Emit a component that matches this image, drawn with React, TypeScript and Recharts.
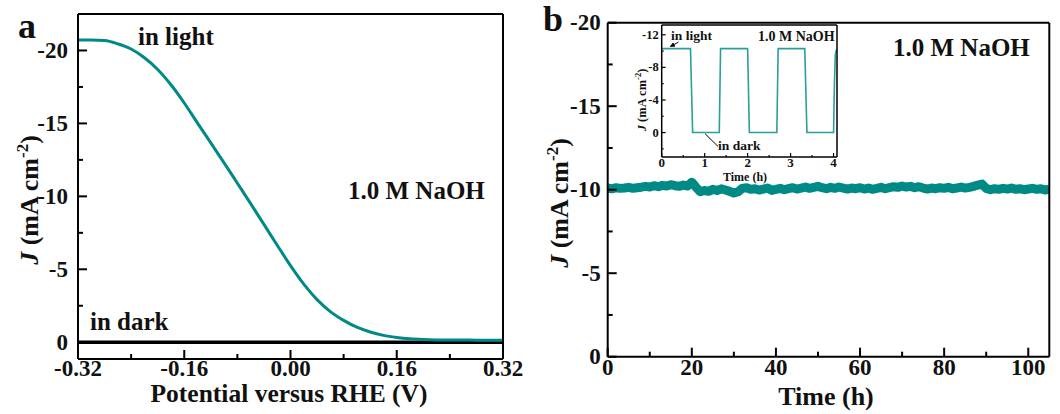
import React from 'react';
import { LineChart, Line, XAxis, YAxis, ReferenceLine } from 'recharts';

// ---------- Panel a data ----------
const potentialV = [
  -0.32, -0.30, -0.28, -0.26, -0.24, -0.22, -0.20, -0.18, -0.16, -0.14, -0.12,
  -0.10, -0.08, -0.06, -0.04, -0.02, 0.00, 0.02, 0.04, 0.06, 0.08, 0.10,
  0.12, 0.14, 0.16, 0.18, 0.20, 0.22, 0.24, 0.26, 0.28, 0.30, 0.32,
];
const lightJ = [
  -20.72, -20.72, -20.68, -20.45, -20.10, -19.50, -18.70, -17.65, -16.40, -15.02, -13.66,
  -12.30, -10.90, -9.50, -8.08, -6.65, -5.25, -3.98, -2.92, -2.10, -1.50, -1.03,
  -0.70, -0.47, -0.33, -0.24, -0.19, -0.16, -0.15, -0.15, -0.14, -0.14, -0.14,
];
const darkJ = [
  0, 0, 0, 0, 0, 0, 0, 0, 0, 0, 0,
  0, 0, 0, 0, 0, 0, 0, 0, 0, 0, 0,
  0, 0, 0, 0, 0, 0, 0, 0, 0, 0, 0,
];
const aXMajor = [-0.32, -0.16, 0, 0.16, 0.32];
const aXLabels = ['-0.32', '-0.16', '0.00', '0.16', '0.32'];
const aXMinor = [-0.24, -0.08, 0.08, 0.24];
const aYMajor = [-20, -15, -10, -5, 0];
const aYLabels = ['-20', '-15', '-10', '-5', '0'];
const aYMinor = [-17.5, -12.5, -7.5, -2.5];

// ---------- Panel b data ----------
const timeH = [
  0, 1, 2, 3, 4, 5, 6, 7, 8, 9, 10, 11, 12, 13, 14, 15, 16, 17, 18, 19,
  20, 21, 22, 23, 24, 25, 26, 27, 28, 29, 30, 31, 32, 33, 34, 35, 36, 37, 38, 39,
  40, 41, 42, 43, 44, 45, 46, 47, 48, 49, 50, 51, 52, 53, 54, 55, 56, 57, 58, 59,
  60, 61, 62, 63, 64, 65, 66, 67, 68, 69, 70, 71, 72, 73, 74, 75, 76, 77, 78, 79,
  80, 81, 82, 83, 84, 85, 86, 87, 88, 89, 90, 91, 92, 93, 94, 95, 96, 97, 98, 99,
  100, 101, 102, 103, 104, 105,
];
const stabilityJ = [
  -10.10, -10.05, -10.12, -10.08, -10.10, -10.14, -10.08, -10.12, -10.15, -10.20,
  -10.16, -10.24, -10.18, -10.26, -10.22, -10.30, -10.24, -10.20, -10.28, -10.22,
  -10.45, -10.15, -9.88, -9.95, -9.90, -10.02, -9.95, -10.05, -9.98, -9.90,
  -9.80, -9.88, -10.08, -10.12, -10.02, -10.06, -9.98, -10.04, -10.10, -9.96,
  -10.02, -10.08, -10.00, -10.06, -10.12, -10.04, -10.10, -10.16, -10.08, -10.14,
  -10.20, -10.12, -10.06, -10.14, -10.08, -10.16, -10.10, -10.04, -10.10, -10.06,
  -10.12, -10.04, -10.10, -10.02, -10.08, -10.14, -10.06, -10.12, -10.18, -10.14,
  -10.22, -10.16, -10.20, -10.12, -10.18, -10.10, -10.04, -10.10, -10.06, -10.12,
  -10.08, -10.14, -10.06, -10.10, -10.16, -10.10, -10.14, -10.20, -10.28, -10.34,
  -10.08, -10.00, -10.06, -10.02, -10.08, -10.04, -10.10, -10.02, -10.06, -10.00,
  -10.04, -10.08, -10.02, -10.06, -9.98, -10.04,
];
const bXMajor = [0, 20, 40, 60, 80, 100];
const bXLabels = ['0', '20', '40', '60', '80', '100'];
const bXMinor = [10, 30, 50, 70, 90];
const bYMajor = [-20, -15, -10, -5, 0];
const bYLabels = ['-20', '-15', '-10', '-5', '0'];
const bYMinor = [-17.5, -12.5, -7.5, -2.5];

// ---------- Inset data ----------
const insetT = [0, 0.67, 0.72, 1.34, 1.37, 2.0, 2.04, 2.68, 2.71, 3.33, 3.38, 4.0, 4.02, 4.04, 4.07];
const insetJ = [-10.3, -10.3, 0, 0, -10.3, -10.3, 0, 0, -10.3, -10.3, 0, 0, -6, -9.5, -10.2];
const iXMajor = [0, 1, 2, 3, 4];
const iXLabels = ['0', '1', '2', '3', '4'];
const iXMinor = [0.5, 1.5, 2.5, 3.5];
const iYMajor = [-12, -8, -4, 0];
const iYLabels = ['-12', '-8', '-4', '0'];
const iYMinor = [-10, -6, -2, 2];

const TEAL = '#008a85';
const INSET_TEAL = '#2a9e99';
const FONT = "'Liberation Serif', 'Times New Roman', serif";

type TickOpts = {
  side: 'bottom' | 'left';
  majors: number[];
  labels: string[];
  major: number;
  minor: number;
  font: number;
  gap: number;
  stroke: number;
};

function makeTick(o: TickOpts) {
  return (props: any) => {
    const { x, y, payload } = props;
    const idx = o.majors.findIndex((m) => Math.abs(m - payload.value) < 1e-6);
    const isMajor = idx >= 0;
    const len = isMajor ? o.major : o.minor;
    if (o.side === 'bottom') {
      return (
        <g>
          <line x1={x} y1={y} x2={x} y2={y - len} stroke="#000" strokeWidth={o.stroke} />
          {isMajor && (
            <text x={x} y={y + o.gap} textAnchor="middle" fontFamily={FONT} fontWeight="bold" fontSize={o.font} fill="#111">
              {o.labels[idx]}
            </text>
          )}
        </g>
      );
    }
    return (
      <g>
        <line x1={x} y1={y} x2={x + len} y2={y} stroke="#000" strokeWidth={o.stroke} />
        {isMajor && (
          <text x={x - o.gap} y={y + o.font * 0.33} textAnchor="end" fontFamily={FONT} fontWeight="bold" fontSize={o.font} fill="#111">
            {o.labels[idx]}
          </text>
        )}
      </g>
    );
  };
}

const sortNum = (a: number[]) => [...a].sort((p, q) => p - q);

function PanelA() {
  const data = potentialV.map((v, i) => ({ v, light: lightJ[i], dark: darkJ[i] }));
  const xDomain: [number, number] = [-0.32, 0.32];
  const yDomain: [number, number] = [-22.5, 1.15];
  return (
    <LineChart width={530} height={414} data={data} margin={{ top: 13, right: 26, bottom: 54, left: 77 }}>
      <XAxis dataKey="v" type="number" domain={xDomain} allowDataOverflow ticks={sortNum([...aXMajor, ...aXMinor])}
        interval={0} height={1} tickSize={0} tickMargin={0} tickLine={false}
        axisLine={{ stroke: '#000', strokeWidth: 2 }}
        tick={makeTick({ side: 'bottom', majors: aXMajor, labels: aXLabels, major: 9, minor: 5, font: 23, gap: 16.5, stroke: 2 })} />
      <XAxis xAxisId="top" dataKey="v" type="number" domain={xDomain} allowDataOverflow orientation="top" height={1}
        tick={false} tickLine={false} axisLine={{ stroke: '#000', strokeWidth: 2 }} />
      <YAxis type="number" domain={yDomain} allowDataOverflow reversed ticks={sortNum([...aYMajor, ...aYMinor])}
        interval={0} width={1} tickSize={0} tickMargin={0} tickLine={false}
        axisLine={{ stroke: '#000', strokeWidth: 2 }}
        tick={makeTick({ side: 'left', majors: aYMajor, labels: aYLabels, major: 9, minor: 5, font: 23, gap: 10, stroke: 2 })} />
      <YAxis yAxisId="right" type="number" domain={yDomain} allowDataOverflow reversed orientation="right" width={1}
        tick={false} tickLine={false} axisLine={{ stroke: '#000', strokeWidth: 2 }} />
      <Line dataKey="dark" type="linear" stroke="#000" strokeWidth={3.5} dot={false} isAnimationActive={false} />
      <Line dataKey="light" type="monotone" stroke={TEAL} strokeWidth={3} dot={false} isAnimationActive={false} />
    </LineChart>
  );
}

function PanelB() {
  const data = timeH.map((t, i) => ({ t, j: stabilityJ[i] }));
  const xDomain: [number, number] = [0, 105];
  const yDomain: [number, number] = [-20, 0];
  return (
    <LineChart width={530} height={414} data={data} margin={{ top: 21.7, right: 9.7, bottom: 56.3, left: 76.7 }}>
      <XAxis dataKey="t" type="number" domain={xDomain} allowDataOverflow ticks={sortNum([...bXMajor, ...bXMinor])}
        interval={0} height={1} tickSize={0} tickMargin={0} tickLine={false}
        axisLine={{ stroke: '#000', strokeWidth: 2 }}
        tick={makeTick({ side: 'bottom', majors: bXMajor, labels: bXLabels, major: 9, minor: 5, font: 23, gap: 18, stroke: 2 })} />
      <XAxis xAxisId="top" dataKey="t" type="number" domain={xDomain} allowDataOverflow orientation="top" height={1}
        tick={false} tickLine={false} axisLine={{ stroke: '#000', strokeWidth: 2 }} />
      <YAxis type="number" domain={yDomain} allowDataOverflow reversed ticks={sortNum([...bYMajor, ...bYMinor])}
        interval={0} width={1} tickSize={0} tickMargin={0} tickLine={false}
        axisLine={{ stroke: '#000', strokeWidth: 2 }}
        tick={makeTick({ side: 'left', majors: bYMajor, labels: bYLabels, major: 9, minor: 5, font: 23, gap: 7, stroke: 2 })} />
      <YAxis yAxisId="right" type="number" domain={yDomain} allowDataOverflow reversed orientation="right" width={1}
        tick={false} tickLine={false} axisLine={{ stroke: '#000', strokeWidth: 2 }} />
      <Line dataKey="j" type="linear" stroke={TEAL} strokeWidth={9} strokeLinejoin="round" dot={false} isAnimationActive={false} />
    </LineChart>
  );
}

function Inset() {
  const data = insetT.map((t, i) => ({ t, j: insetJ[i] }));
  const xDomain: [number, number] = [0, 4.08];
  const yDomain: [number, number] = [-13.2, 3.0];
  return (
    <LineChart width={250} height={160} data={data} margin={{ top: 9, right: 12, bottom: 17, left: 60.7 }}>
      <XAxis dataKey="t" type="number" domain={xDomain} allowDataOverflow ticks={sortNum([...iXMajor, ...iXMinor])}
        interval={0} height={1} tickSize={0} tickMargin={0} tickLine={false}
        axisLine={{ stroke: '#000', strokeWidth: 1.5 }}
        tick={makeTick({ side: 'bottom', majors: iXMajor, labels: iXLabels, major: 4, minor: 2, font: 13, gap: 10, stroke: 1.2 })} />
      <XAxis xAxisId="top" dataKey="t" type="number" domain={xDomain} allowDataOverflow orientation="top" height={1}
        tick={false} tickLine={false} axisLine={{ stroke: '#000', strokeWidth: 1.5 }} />
      <YAxis type="number" domain={yDomain} allowDataOverflow reversed ticks={sortNum([...iYMajor, ...iYMinor])}
        interval={0} width={1} tickSize={0} tickMargin={0} tickLine={false}
        axisLine={{ stroke: '#000', strokeWidth: 1.5 }}
        tick={makeTick({ side: 'left', majors: iYMajor, labels: iYLabels, major: 4, minor: 2, font: 12.5, gap: 3, stroke: 1.2 })} />
      <YAxis yAxisId="right" type="number" domain={yDomain} allowDataOverflow reversed orientation="right" width={1}
        tick={false} tickLine={false} axisLine={{ stroke: '#000', strokeWidth: 1.5 }} />
      <Line dataKey="j" type="linear" stroke={INSET_TEAL} strokeWidth={1.6} dot={false} isAnimationActive={false} />
      <ReferenceLine segment={[{ x: 0.39, y: -11.1 }, { x: 0.2, y: -10.55 }]} stroke="#000" strokeWidth={1}
        ifOverflow="visible" markerEnd="url(#arrowHead)" />
      <ReferenceLine segment={[{ x: 1.01, y: 0.15 }, { x: 1.31, y: 1.7 }]} stroke="#000" strokeWidth={1} ifOverflow="visible" />
    </LineChart>
  );
}

function Overlay() {
  const t = { fontFamily: FONT, fontWeight: 'bold' as const, fill: '#111' };
  return (
    <svg width={1060} height={414} style={{ position: 'absolute', left: 0, top: 0, pointerEvents: 'none' }}>
      <defs>
        <marker id="arrowHead" viewBox="0 0 10 10" refX="9" refY="5" markerWidth="5" markerHeight="5" orient="auto">
          <path d="M0,0 L10,5 L0,10 z" fill="#000" />
        </marker>
      </defs>
      {/* Panel a */}
      <text x={18} y={38} fontSize={36} {...t}>a</text>
      <text x={138} y={45} fontSize={25} {...t}>in light</text>
      <text x={90} y={330} fontSize={25} {...t}>in dark</text>
      <text x={348} y={199} fontSize={25} {...t}>1.0 M NaOH</text>
      <text x={289} y={402} fontSize={25.5} textAnchor="middle" {...t}>Potential versus RHE (V)</text>
      <text transform="translate(38,200) rotate(-90)" fontSize={26} textAnchor="middle" {...t}>
        <tspan fontStyle="italic">J</tspan> (mA cm<tspan fontSize={17} dy={-10}>-2</tspan><tspan dy={10}>)</tspan>
      </text>
      {/* Panel b */}
      <text x={543} y={31} fontSize={36} {...t}>b</text>
      <text x={893} y={56} fontSize={25} {...t}>1.0 M NaOH</text>
      <text x={826} y={405} fontSize={26} textAnchor="middle" {...t}>Time (h)</text>
      <text transform="translate(568,203) rotate(-90)" fontSize={26} textAnchor="middle" {...t}>
        <tspan fontStyle="italic">J</tspan> (mA cm<tspan fontSize={17} dy={-10}>-2</tspan><tspan dy={10}>)</tspan>
      </text>
      {/* Inset */}
      <text x={671} y={40} fontSize={13.5} {...t}>in light</text>
      <text x={758} y={41} fontSize={14} {...t}>1.0 M NaOH</text>
      <text x={718} y={150} fontSize={13.5} {...t}>in dark</text>
      <text x={745} y={181} fontSize={12} textAnchor="middle" {...t}>Time (h)</text>
      <text transform="translate(646,100) rotate(-90)" fontSize={12.5} textAnchor="middle" {...t}>
        <tspan fontStyle="italic">J</tspan> (mA cm<tspan fontSize={8.5} dy={-5}>-2</tspan><tspan dy={5}>)</tspan>
      </text>
    </svg>
  );
}

export default function App() {
  return (
    <div style={{ position: 'absolute', left: 0, top: 0, width: 1060, height: 414, background: '#fff', overflow: 'hidden' }}>
      <div style={{ position: 'absolute', left: 0, top: 0 }}>
        <PanelA />
      </div>
      <div style={{ position: 'absolute', left: 530, top: 0 }}>
        <PanelB />
      </div>
      <div style={{ position: 'absolute', left: 600, top: 15 }}>
        <Inset />
      </div>
      <Overlay />
    </div>
  );
}
